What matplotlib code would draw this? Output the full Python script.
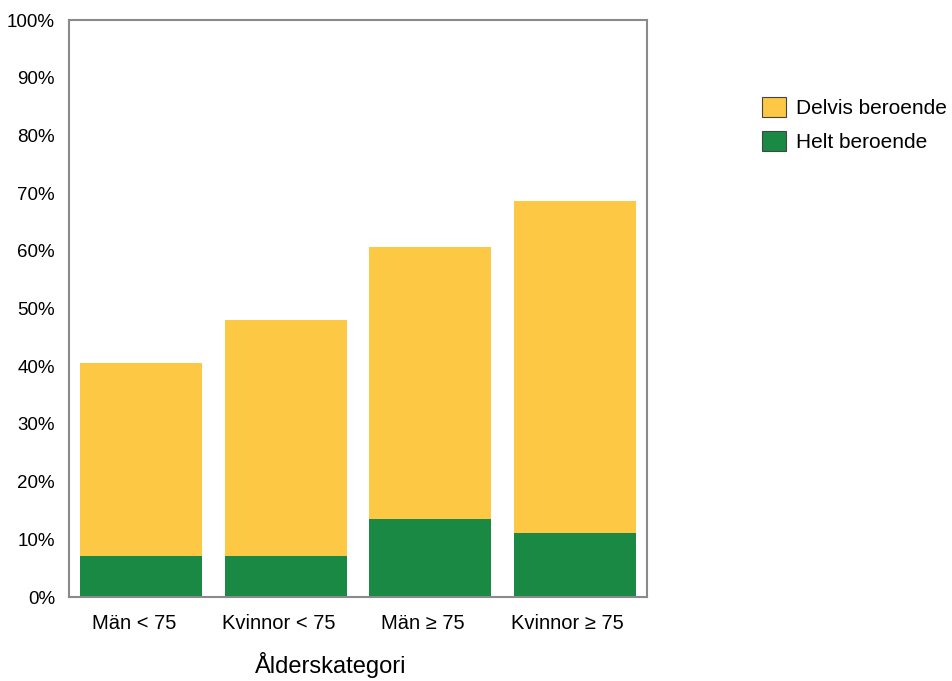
import matplotlib
matplotlib.use("Agg")
import matplotlib.pyplot as plt
import matplotlib.transforms as mtransforms
from matplotlib.patches import Patch
from matplotlib.ticker import PercentFormatter

plt.rcParams["font.family"] = ["Liberation Sans", "DejaVu Sans"]

categories = ["Män < 75", "Kvinnor < 75", "Män ≥ 75", "Kvinnor ≥ 75"]
helt = [7.1, 7.1, 13.5, 11.1]
totalt = [40.6, 48.0, 60.7, 68.6]
delvis = [t - h for t, h in zip(totalt, helt)]
y_ticks = list(range(0, 101, 10))

yellow = "#FDC844"
green = "#198943"
axis_grey = "#8a8a8e"

fig = plt.figure(figsize=(9.53, 6.81), dpi=100)
ax = fig.add_axes([0.0724, 0.1233, 0.6066, 0.8473])

x = range(len(categories))
ax.bar(x, helt, width=0.845, color=green, edgecolor="none")
ax.bar(x, delvis, bottom=helt, width=0.845, color=yellow, edgecolor="none")

ax.set_xlim(-0.5, 3.5)
ax.set_ylim(0, 100)
ax.set_yticks(y_ticks)
ax.yaxis.set_major_formatter(PercentFormatter(decimals=0))
ax.set_xticks(list(x))
ax.set_xticklabels(categories)
ax.tick_params(axis="both", length=0)
ax.tick_params(axis="x", pad=12, labelsize=14.5)
ax.tick_params(axis="y", pad=10, labelsize=13.5)
for sp in ax.spines.values():
    sp.set_color(axis_grey)
    sp.set_linewidth(1.5)

# category labels sit slightly left of the bar centres
shift = mtransforms.ScaledTranslation(-7 / 100, 0, fig.dpi_scale_trans)
for lbl in ax.get_xticklabels():
    lbl.set_transform(lbl.get_transform() + shift)

ax.set_xlabel("Ålderskategori", fontsize=17)
ax.xaxis.set_label_coords(0.453, -0.118, transform=ax.transAxes)
ax.xaxis.label.set_verticalalignment("center")

handles = [Patch(facecolor=yellow, edgecolor="#444444", linewidth=0.8, label="Delvis beroende"),
           Patch(facecolor=green, edgecolor="#444444", linewidth=0.8, label="Helt beroende")]
fig.legend(handles=handles, loc="upper left", bbox_to_anchor=(0.7906, 0.870),
           frameon=False, fontsize=15, handlelength=1.15, handleheight=1.12,
           handletextpad=0.48, labelspacing=0.6, borderaxespad=0)

fig.savefig("out.png", dpi=100)
